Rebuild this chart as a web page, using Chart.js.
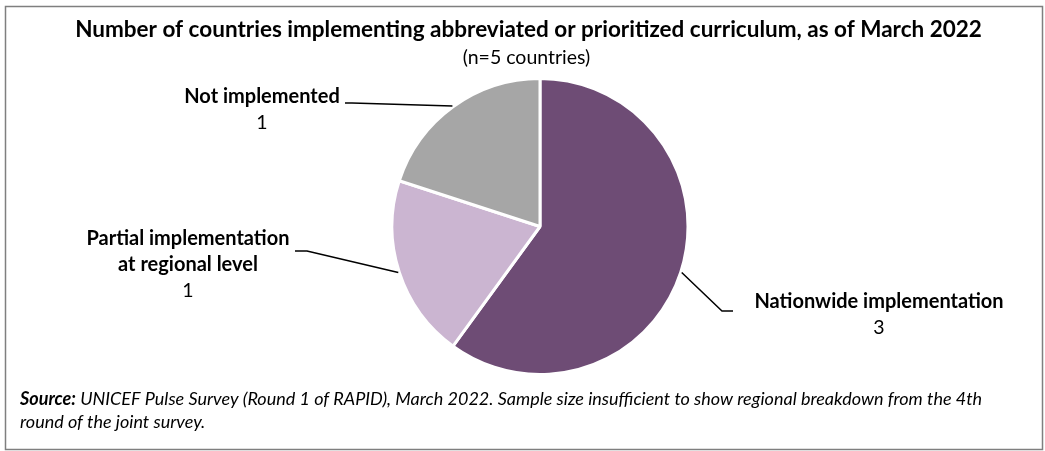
<!DOCTYPE html>
<html>
<head>
<meta charset="utf-8">
<script src="https://cdn.jsdelivr.net/npm/chart.js@4"></script>
<style>
  html, body { margin: 0; padding: 0; background: #ffffff; }
  #wrap { width: 1045px; height: 451px; position: relative; }
</style>
</head>
<body>
<div id="wrap"><canvas id="c" width="1045" height="451"></canvas></div>
<script>
// Implementation status of abbreviated / prioritized curriculum
const categories = ['Nationwide implementation', 'Partial implementation at regional level', 'Not implemented'];
const labelLines = [['Nationwide implementation'], ['Partial implementation', 'at regional level'], ['Not implemented']];
const counts = [3, 1, 1];
const sliceColors = ['#6E4C75', '#CBB5D1', '#A6A6A6'];

const titleText = 'Number of countries implementing abbreviated or prioritized curriculum, as of March 2022';
const subtitleText = '(n=5 countries)';
const sourceLead = 'Source:';
const sourceLine1 = ' UNICEF Pulse Survey (Round 1 of RAPID), March 2022. Sample size insufficient to show regional breakdown from the 4th';
const sourceLine2 = 'round of the joint survey.';

const FONT = 'Lato, "Open Sans", "DejaVu Sans", sans-serif';

// Callout layout for each slice: label anchor, elbow point and where the line meets the text
const callouts = [
  { cx: 879, cy: 302, w: 250, elbow: [722, 311], tip: [733, 311] },
  { cx: 188, cy: 239, w: 204, elbow: [307, 251], tip: [295, 251] },
  { cx: 262, cy: 97,  w: 156, elbow: [352, 103], tip: [345, 103] }
];

const decorations = {
  id: 'decorations',
  afterDraw(chart) {
    const ctx = chart.ctx;
    ctx.save();

    // outer frame
    ctx.strokeStyle = '#7F7F7F';
    ctx.lineWidth = 1.5;
    ctx.strokeRect(5.5, 6.5, 1037, 443);

    ctx.fillStyle = '#000000';
    ctx.textAlign = 'center';
    ctx.textBaseline = 'middle';

    // title and subtitle
    ctx.font = 'bold 22.5px ' + FONT;
    ctx.fillText(titleText, 528.5, 30, 910);
    ctx.font = '19.5px ' + FONT;
    ctx.fillText(subtitleText, 526.5, 58, 129);

    // leader lines from the mid-angle of each slice
    const meta = chart.getDatasetMeta(0);
    ctx.strokeStyle = '#000000';
    ctx.lineWidth = 1.5;
    meta.data.forEach((arc, i) => {
      const p = arc.getProps(['x', 'y', 'startAngle', 'endAngle', 'outerRadius'], true);
      const mid = (p.startAngle + p.endAngle) / 2;
      const ex = p.x + Math.cos(mid) * (p.outerRadius + 1);
      const ey = p.y + Math.sin(mid) * (p.outerRadius + 1);
      const c = callouts[i];
      ctx.beginPath();
      ctx.moveTo(ex, ey);
      ctx.lineTo(c.elbow[0], c.elbow[1]);
      ctx.lineTo(c.tip[0], c.tip[1]);
      ctx.stroke();

      // category name (bold) and value
      const lines = labelLines[i];
      ctx.font = 'bold 20px ' + FONT;
      lines.forEach((t, k) => ctx.fillText(t, c.cx, c.cy + k * 26, c.w));
      ctx.font = '19.5px ' + FONT;
      ctx.fillText(String(chart.data.datasets[0].data[i]), c.cx, c.cy + lines.length * 26);
    });

    // source note
    ctx.textAlign = 'left';
    ctx.font = 'italic bold 18px ' + FONT;
    ctx.fillText(sourceLead, 20, 399);
    const leadW = ctx.measureText(sourceLead).width;
    ctx.font = 'italic 18px ' + FONT;
    ctx.fillText(sourceLine1, 20 + leadW, 399, 965 - leadW);
    ctx.fillText(sourceLine2, 20, 422);

    ctx.restore();
  }
};

new Chart(document.getElementById('c'), {
  type: 'pie',
  data: {
    labels: categories,
    datasets: [{
      data: counts,
      backgroundColor: sliceColors,
      borderColor: '#ffffff',
      borderWidth: 3,
      radius: 148
    }]
  },
  options: {
    responsive: false,
    animation: false,
    rotation: 0,
    layout: { padding: { left: 380, right: 345, top: 70, bottom: 68 } },
    plugins: {
      legend: { display: false },
      title: { display: false },
      tooltip: { enabled: false }
    }
  },
  plugins: [decorations]
});
</script>
</body>
</html>
